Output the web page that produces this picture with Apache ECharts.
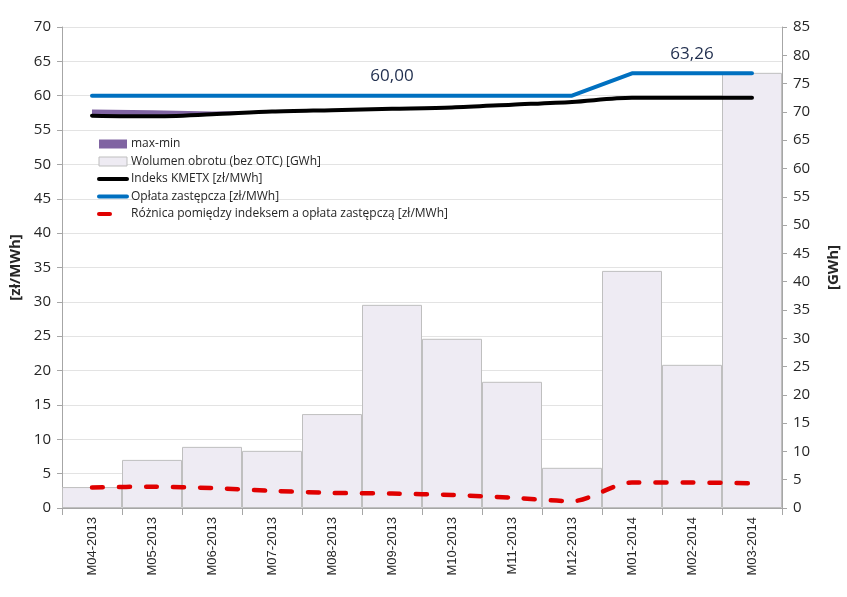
<!DOCTYPE html>
<html>
<head>
<meta charset="utf-8">
<script src="https://cdn.jsdelivr.net/npm/echarts@6/dist/echarts.min.js"></script>
<style>
html,body{margin:0;padding:0;background:#fff;}
#chart{width:847px;height:597px;}
</style>
</head>
<body>
<div id="chart"></div>
<script>
const categories = ['M04-2013','M05-2013','M06-2013','M07-2013','M08-2013','M09-2013','M10-2013','M11-2013','M12-2013','M01-2014','M02-2014','M03-2014'];
const volumeGWh = [3.7, 8.5, 10.8, 10.1, 16.6, 35.9, 29.9, 22.3, 7.1, 41.9, 25.3, 76.9];
const indexKMETX = [57.1, 57.0, 57.3, 57.7, 57.9, 58.1, 58.3, 58.7, 59.1, 59.7, 59.7, 59.7];
const maxVals = [58.0, 57.9, 57.7, 57.8, 58.0, 58.2, 58.4, 58.8, 59.2, 59.8, 59.8, 59.8];
const minVals = [57.1, 57.0, 57.3, 57.7, 57.9, 58.1, 58.3, 58.7, 59.1, 59.7, 59.7, 59.7];
const oplata = [60.00, 60.00, 60.00, 60.00, 60.00, 60.00, 60.00, 60.00, 60.00, 63.26, 63.26, 63.26];
const roznica = [3.0, 3.1, 2.9, 2.5, 2.2, 2.1, 1.9, 1.5, 1.0, 3.7, 3.7, 3.6];
const labelledIdx = [5, 10];
const leftTicks = {min: 0, max: 70, interval: 5};
const rightTicks = {min: 0, max: 85, interval: 5};

const names = {
  mm: 'max-min',
  vol: 'Wolumen obrotu (bez OTC) [GWh]',
  idx: 'Indeks KMETX [zł/MWh]',
  opl: 'Opłata zastępcza [zł/MWh]',
  roz: 'Różnica pomiędzy indeksem a opłata zastępczą [zł/MWh]'
};
const fmt = v => v.toFixed(2).replace('.', ',');

const chart = echarts.init(document.getElementById('chart'), null, {renderer: 'canvas'});
const font = 'Open Sans, Noto Sans, sans-serif';
chart.setOption({
  animation: false,
  backgroundColor: '#ffffff',
  textStyle: {fontFamily: font},
  grid: {left: 62, right: 65, top: 27, bottom: 89, containLabel: false, outerBoundsMode: 'none'},
  legend: {
    orient: 'vertical',
    left: 92, top: 133,
    itemWidth: 28, itemHeight: 9,
    itemGap: 5.5,
    textStyle: {fontSize: 12, color: '#262626', fontFamily: font, padding: [0,0,0,-1]},
    data: [
      {name: names.mm, icon: 'rect', itemStyle: {color: '#8064A2'}},
      {name: names.vol, icon: 'rect', itemStyle: {color: '#EEEBF3', borderColor: '#BFBFBF', borderWidth: 1}},
      {name: names.idx, itemStyle: {opacity: 0}, lineStyle: {width: 4, color: '#000000', cap: 'round'}},
      {name: names.opl, itemStyle: {opacity: 0}, lineStyle: {width: 4, color: '#0070C0', cap: 'round'}},
      {name: names.roz, itemStyle: {opacity: 0}, lineStyle: {width: 4, color: '#E00000', type: [11, 40], cap: 'round'}}
    ]
  },
  xAxis: {
    type: 'category',
    data: categories,
    boundaryGap: true,
    axisLine: {lineStyle: {color: '#A6A6A6'}},
    axisTick: {show: true, length: 7, lineStyle: {color: '#A6A6A6'}},
    axisLabel: {rotate: 90, margin: 9, fontSize: 13, color: '#262626', fontFamily: 'Liberation Sans, Arial, sans-serif'},
    splitLine: {show: false}
  },
  yAxis: [
    {
      type: 'value', min: leftTicks.min, max: leftTicks.max, interval: leftTicks.interval,
      name: '[zł/MWh]', nameLocation: 'middle', nameGap: 35, nameRotate: 90,
      nameTextStyle: {fontSize: 15, fontWeight: 'bold', color: '#262626'},
      axisLine: {show: true, lineStyle: {color: '#A6A6A6'}},
      axisTick: {show: true, length: 5, lineStyle: {color: '#A6A6A6'}},
      axisLabel: {fontSize: 15, color: '#262626', margin: 11},
      splitLine: {show: true, lineStyle: {color: '#E3E3E3', width: 1}}
    },
    {
      type: 'value', min: rightTicks.min, max: rightTicks.max, interval: rightTicks.interval,
      name: '[GWh]', nameLocation: 'middle', nameGap: 44, nameRotate: 90,
      nameTextStyle: {fontSize: 15, fontWeight: 'bold', color: '#262626'},
      axisLine: {show: true, lineStyle: {color: '#A6A6A6'}},
      axisTick: {show: true, length: 5, lineStyle: {color: '#A6A6A6'}},
      axisLabel: {fontSize: 15, color: '#262626', margin: 11},
      splitLine: {show: false}
    }
  ],
  series: [
    {
      name: names.vol, type: 'bar', yAxisIndex: 1, data: volumeGWh,
      barCategoryGap: '0%', barGap: '0%',
      itemStyle: {color: '#EEEBF3', borderColor: '#BFBFBF', borderWidth: 1},
      z: 1
    },
    {
      name: 'mm-base', type: 'line', stack: 'mm', data: minVals, symbol: 'none',
      lineStyle: {width: 0, opacity: 0}, areaStyle: {opacity: 0}, silent: true, z: 2
    },
    {
      name: names.mm, type: 'line', stack: 'mm', data: maxVals.map((v, i) => +(v - minVals[i]).toFixed(2)),
      symbol: 'none', lineStyle: {width: 0, opacity: 0}, itemStyle: {color: '#8064A2'},
      areaStyle: {color: '#8064A2', opacity: 1}, z: 3
    },
    {
      name: names.idx, type: 'line', data: indexKMETX, symbol: 'none', smooth: 0.3,
      lineStyle: {color: '#000000', width: 4, cap: 'round'}, itemStyle: {color: '#000000'}, z: 4
    },
    {
      name: names.opl, type: 'line',
      data: oplata.map((v, i) => labelledIdx.includes(i) ? {value: v, label: {show: true, position: 'top', distance: 11, formatter: p => fmt(p.value), fontSize: 17, color: '#1F2D4D'}} : v),
      symbol: 'circle', symbolSize: 0, showSymbol: true,
      lineStyle: {color: '#0070C0', width: 4, cap: 'round'}, itemStyle: {color: '#0070C0'}, z: 5
    },
    {
      name: names.roz, type: 'line', data: roznica, symbol: 'none', smooth: 0.3,
      lineStyle: {color: '#E00000', width: 4.5, type: [11, 16], cap: 'round'}, itemStyle: {color: '#E00000'}, z: 4
    }
  ]
});
</script>
</body>
</html>
